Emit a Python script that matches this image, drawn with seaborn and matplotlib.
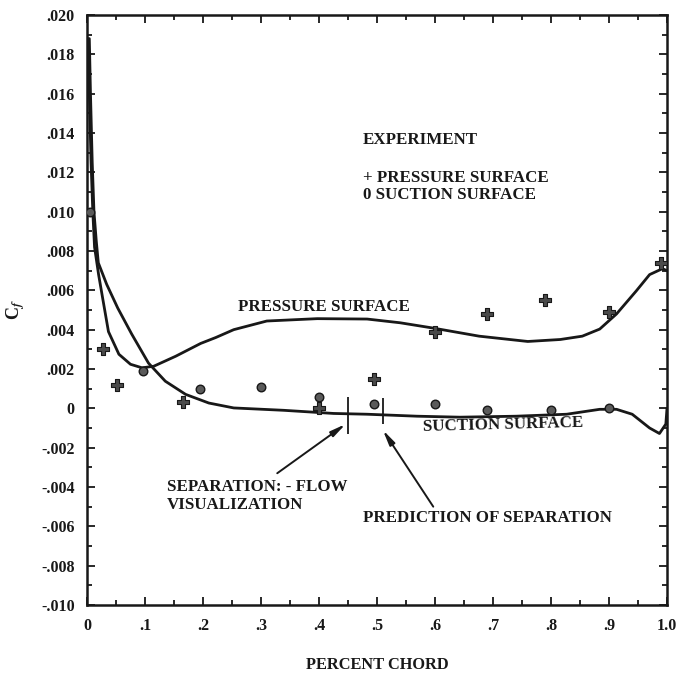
import matplotlib
matplotlib.use("Agg")
import matplotlib.pyplot as plt
import seaborn as sns
import pandas as pd

# Skin-friction coefficient along the chord: computed curves
pressure_x = [0.002, 0.004, 0.007, 0.010, 0.013, 0.020, 0.027, 0.037, 0.055, 0.075,
              0.095, 0.115, 0.153, 0.196, 0.222, 0.253, 0.310, 0.397, 0.483, 0.540,
              0.597, 0.676, 0.760, 0.816, 0.854, 0.884, 0.913, 0.947, 0.970, 0.992, 1.000]
pressure_cf = [0.0188, 0.0160, 0.0125, 0.0100, 0.0082, 0.0068, 0.0056, 0.0039, 0.00275, 0.00224,
               0.00206, 0.00214, 0.00265, 0.0033, 0.0036, 0.0040, 0.00444, 0.00456, 0.00454, 0.00435,
               0.00408, 0.00367, 0.0034, 0.0035, 0.00367, 0.00403, 0.0048, 0.00597, 0.0068, 0.0071, 0.0070]

suction_x = [0.004, 0.006, 0.009, 0.012, 0.016, 0.0195, 0.034, 0.053, 0.077, 0.106,
             0.135, 0.170, 0.210, 0.253, 0.339, 0.425, 0.483, 0.569, 0.643, 0.740,
             0.827, 0.884, 0.913, 0.940, 0.970, 0.987, 0.998, 1.000]
suction_cf = [0.0188, 0.0160, 0.0125, 0.0100, 0.0085, 0.0074, 0.0063, 0.0051, 0.00378, 0.0023,
              0.00138, 0.00071, 0.00027, 0.00002, -0.0001, -0.00026, -0.0003, -0.0004, -0.00045, -0.0004,
              -0.0003, -0.00005, -0.00005, -0.0003, -0.0010, -0.00128, -0.0008, 0.0]

# Experimental points
exp_pressure_x = [0.027, 0.052, 0.165, 0.40, 0.495, 0.60, 0.69, 0.79, 0.90, 0.99]
exp_pressure_cf = [0.0030, 0.0012, 0.0003, 0.0000, 0.0015, 0.0039, 0.0048, 0.0055, 0.0049, 0.0074]

exp_suction_x = [0.006, 0.097, 0.195, 0.30, 0.40, 0.495, 0.60, 0.69, 0.80, 0.90]
exp_suction_cf = [0.0100, 0.0019, 0.0010, 0.0011, 0.0006, 0.0002, 0.0002, -0.0001, -0.0001, 0.0000]

# Separation locations: flow visualization and prediction
sep_x = [0.45, 0.51]
sep_top = [0.0006, 0.0005]
sep_bottom = [-0.0013, -0.0008]

x_ticks = [0.0, 0.1, 0.2, 0.3, 0.4, 0.5, 0.6, 0.7, 0.8, 0.9, 1.0]
x_tick_labels = ["0", ".1", ".2", ".3", ".4", ".5", ".6", ".7", ".8", ".9", "1.0"]
y_ticks = [-0.010, -0.008, -0.006, -0.004, -0.002, 0.0, 0.002, 0.004, 0.006, 0.008,
           0.010, 0.012, 0.014, 0.016, 0.018, 0.020]
y_tick_labels = ["-.010", "-.008", "-.006", "-.004", "-.002", "0", ".002", ".004", ".006", ".008",
                 ".010", ".012", ".014", ".016", ".018", ".020"]

sns.set_style("ticks")
plt.rcParams["font.family"] = ["Liberation Serif", "DejaVu Serif"]
plt.rcParams["font.weight"] = "bold"
plt.rcParams["axes.labelweight"] = "bold"
plt.rcParams["mathtext.fontset"] = "stix"

ink = "#181818"
fig = plt.figure(figsize=(6.92, 6.75), dpi=100)
ax = fig.add_axes([87 / 692, 1 - 605 / 675, 580 / 692, 590 / 675])

curves = pd.concat([
    pd.DataFrame({"x": pressure_x, "cf": pressure_cf, "surface": "pressure"}),
    pd.DataFrame({"x": suction_x, "cf": suction_cf, "surface": "suction"}),
])
sns.lineplot(data=curves, x="x", y="cf", units="surface", estimator=None, sort=False,
             color=ink, lw=2.0, ax=ax, legend=False)

sns.scatterplot(x=exp_pressure_x, y=exp_pressure_cf, marker="P", s=75,
                color="#4a4a4a", edgecolor=ink, linewidth=0.8, ax=ax, zorder=4)
sns.scatterplot(x=exp_suction_x, y=exp_suction_cf, marker="o", s=38,
                color="#5a5a5a", edgecolor=ink, linewidth=1.0, ax=ax, zorder=4)

ax.vlines(sep_x, sep_bottom, sep_top, color=ink, lw=1.3)

arrow = dict(arrowstyle="-|>,head_length=0.9,head_width=0.18", color=ink, lw=1.4,
             shrinkA=0, shrinkB=0)
ax.annotate("", xy=(0.446, -0.0008), xytext=(0.328, -0.0033), arrowprops=arrow)
ax.annotate("", xy=(0.51, -0.0011), xytext=(0.597, -0.0050), arrowprops=arrow)

fs = 12.2
ax.text(0.476, 0.01363, "EXPERIMENT", fontsize=fs, color=ink, va="center")
ax.text(0.476, 0.01169, "+ PRESSURE SURFACE", fontsize=fs, color=ink, va="center")
ax.text(0.476, 0.01083, "0 SUCTION SURFACE", fontsize=fs, color=ink, va="center")
ax.text(0.260, 0.00513, "PRESSURE SURFACE", fontsize=fs, color=ink, va="center")
ax.text(0.578, -0.00086, "SUCTION SURFACE", fontsize=fs, color=ink, va="center", rotation=1.5)
ax.text(0.138, -0.00402, "SEPARATION: - FLOW", fontsize=fs, color=ink, va="center")
ax.text(0.138, -0.00493, "VISUALIZATION", fontsize=fs, color=ink, va="center")
ax.text(0.476, -0.00559, "PREDICTION OF SEPARATION", fontsize=fs, color=ink, va="center")

ax.set_xlim(0, 1.0)
ax.set_ylim(-0.010, 0.020)
ax.set_xticks(x_ticks)
ax.set_xticklabels(x_tick_labels)
ax.set_yticks(y_ticks)
ax.set_yticklabels(y_tick_labels)
ax.set_xticks([v + 0.05 for v in x_ticks[:-1]], minor=True)
ax.set_yticks([v + 0.001 for v in y_ticks[:-1]], minor=True)
ax.tick_params(which="both", direction="in", top=True, right=True, color=ink,
               labelsize=11.5, labelcolor=ink, width=1.3)
ax.tick_params(which="major", length=6, pad=9)
ax.tick_params(which="minor", length=3.5)
for sp in ax.spines.values():
    sp.set_visible(True)
    sp.set_linewidth(1.8)
    sp.set_color(ink)

ax.set_xlabel("PERCENT CHORD", fontsize=11.8, color=ink, labelpad=17)
ax.set_ylabel("C$_f$", fontsize=13, color=ink, labelpad=10)

fig.savefig("out.png", dpi=100)
